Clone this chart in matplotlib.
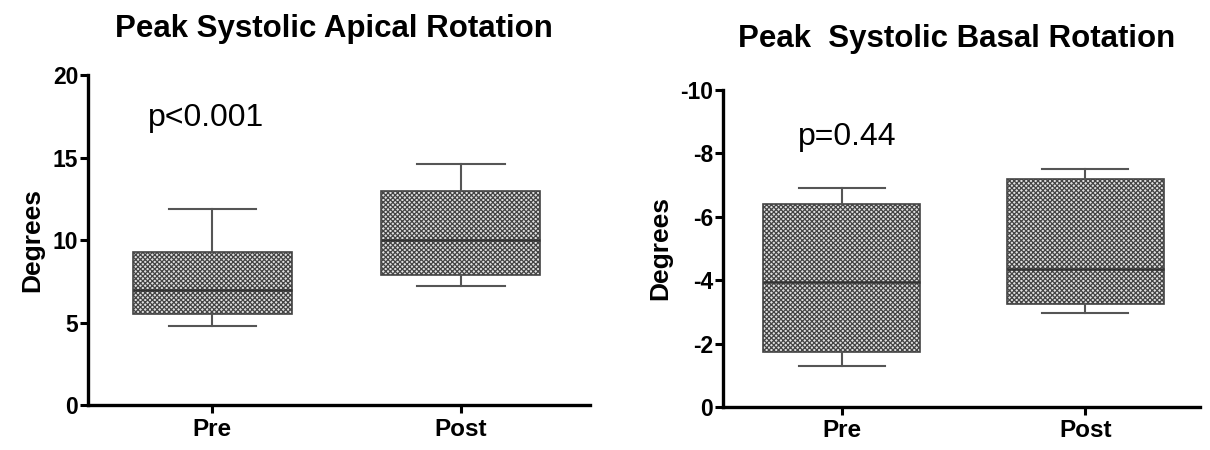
"""Box plots of peak systolic apical and basal rotation, pre vs post."""

import matplotlib
matplotlib.use("Agg")
import matplotlib.pyplot as plt

plt.rcParams['font.family'] = ['Liberation Sans', 'DejaVu Sans']
plt.rcParams['axes.unicode_minus'] = False
plt.rcParams['hatch.linewidth'] = 0.9
plt.rcParams['hatch.color'] = '#1a1a1a'

groups = ["Pre", "Post"]

# whisker low, Q1, median, Q3, whisker high
apical_low = [4.8, 7.2]
apical_q1 = [5.5, 7.9]
apical_med = [7.0, 10.0]
apical_q3 = [9.3, 13.0]
apical_high = [11.9, 14.6]

basal_low = [-1.3, -2.95]
basal_q1 = [-1.75, -3.25]
basal_med = [-3.95, -4.35]
basal_q3 = [-6.4, -7.2]
basal_high = [-6.9, -7.5]


def make_stats(low, q1, med, q3, high):
    return [dict(whislo=a, q1=b, med=c, q3=d, whishi=e, fliers=[], label=g)
            for a, b, c, d, e, g in zip(low, q1, med, q3, high, groups)]


def draw_box(ax, stats, width):
    bp = ax.bxp(stats, positions=[1, 2], widths=width, patch_artist=True,
                showfliers=False,
                boxprops=dict(facecolor='#e0e0e0', edgecolor='#444444',
                              hatch='xxxxxxx', linewidth=1.2),
                medianprops=dict(color='#333333', linewidth=1.8),
                whiskerprops=dict(color='#555555', linewidth=1.5),
                capprops=dict(color='#555555', linewidth=1.5),
                capwidths=width * 0.55)
    return bp


def style_axes(ax):
    for side in ("top", "right"):
        ax.spines[side].set_visible(False)
    for side in ("left", "bottom"):
        ax.spines[side].set_linewidth(2.4)
    ax.tick_params(direction='out', length=6, width=2.2, labelsize=16.5, pad=1)
    ax.tick_params(axis='x', labelsize=17.5, pad=3)
    for lbl in ax.get_xticklabels() + ax.get_yticklabels():
        lbl.set_fontweight('bold')
    ax.set_ylabel("Degrees", fontsize=19, fontweight='bold', labelpad=6)


fig = plt.figure(figsize=(12.1, 4.5), dpi=100)

ax1 = fig.add_axes([0.0727, 0.10, 0.415, 0.7333])
draw_box(ax1, make_stats(apical_low, apical_q1, apical_med, apical_q3, apical_high), 0.64)
ax1.set_xlim(0.5, 2.52)
ax1.set_ylim(0, 20)
ax1.set_yticks([0, 5, 10, 15, 20])
ax1.set_xticks([1, 2], groups)
style_axes(ax1)
ax1.set_title("Peak Systolic Apical Rotation", fontsize=22.5, fontweight='bold',
              x=0.49, y=1.09)
ax1.text(0.74, 16.9, "p<0.001", fontsize=23)

ax2 = fig.add_axes([0.5975, 0.0956, 0.394, 0.7044])
draw_box(ax2, make_stats(basal_low, basal_q1, basal_med, basal_q3, basal_high), 0.645)
ax2.set_xlim(0.512, 2.47)
ax2.set_ylim(0, -10)
ax2.set_yticks([0, -2, -4, -6, -8, -10])
ax2.set_xticks([1, 2], groups)
style_axes(ax2)
ax2.set_title("Peak  Systolic Basal Rotation", fontsize=22.5, fontweight='bold',
              x=0.49, y=1.11)
ax2.text(0.82, -8.25, "p=0.44", fontsize=23)

fig.savefig("out.png", dpi=100)
